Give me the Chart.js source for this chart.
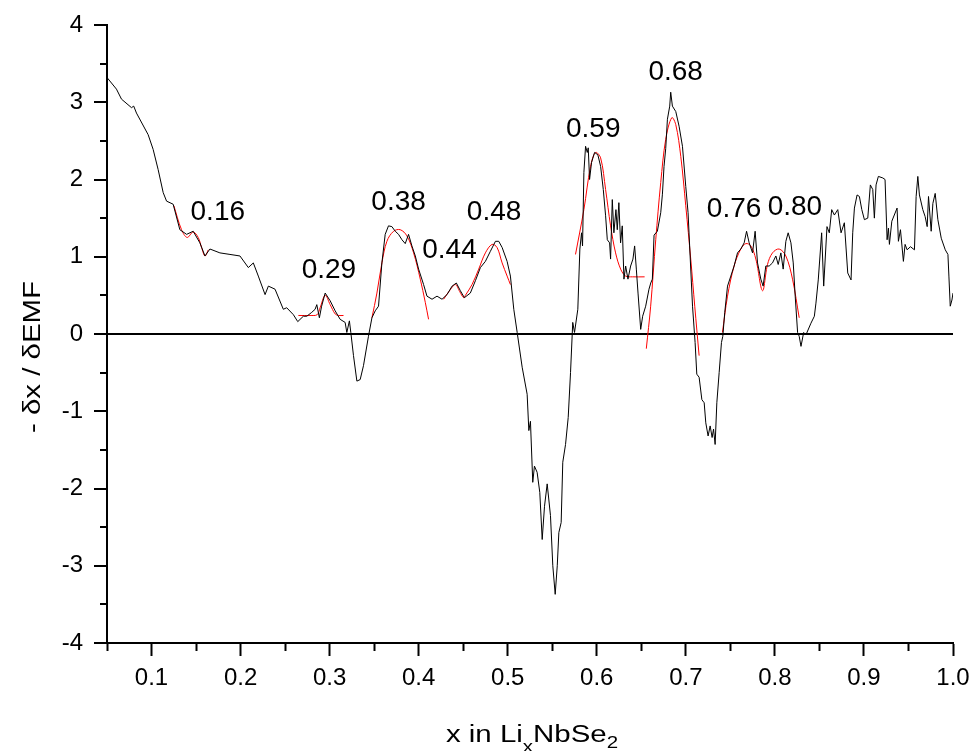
<html>
<head>
    <title>dx/dEMF vs x in LixNbSe2</title>
    <style>
        body {
            margin: 0;
            padding: 0;
            background: #ffffff;
        }
        .wrap {
            width: 971px;
            height: 751px;
            position: relative;
        }
    </style>
</head>
<body>
    <div class="wrap"><canvas id="emfChart"></canvas></div>
    <script src="https://cdn.jsdelivr.net/npm/chart.js"></script>
    <script>
        const curveX = [0.050, 0.0606, 0.0663, 0.0775, 0.080, 0.0831, 0.0962, 0.1018, 0.1074, 0.1131, 0.1169, 0.1243, 0.1318, 0.1394, 0.1468,
            0.1543, 0.1600, 0.1656, 0.1768, 0.1881, 0.1993, 0.2087, 0.2143, 0.2199, 0.2275, 0.2312, 0.2387, 0.2480, 0.2518, 0.2593,
            0.2642, 0.2705, 0.2744, 0.2799, 0.2837, 0.2856, 0.2885, 0.2910, 0.2950, 0.3006, 0.3062, 0.3118, 0.3174, 0.3193, 0.3222,
            0.3238, 0.3268, 0.3306, 0.3343, 0.3380, 0.3436, 0.3475, 0.3512, 0.3549, 0.3587, 0.3624, 0.3661, 0.3699, 0.3737, 0.3774,
            0.3812, 0.3849, 0.3886, 0.3924, 0.3962, 0.3999, 0.4055, 0.4093, 0.4150, 0.4206, 0.4262, 0.4318, 0.4375, 0.4423, 0.4468,
            0.4513, 0.4580, 0.4637, 0.4693, 0.4749, 0.4805, 0.4862, 0.4899, 0.4937, 0.4993, 0.5030, 0.5068, 0.5106, 0.5162, 0.5218,
            0.5237, 0.5255, 0.5281, 0.5300, 0.5330, 0.5360, 0.5387, 0.5413, 0.5443, 0.5480, 0.5506, 0.5533, 0.5556, 0.5574, 0.5600,
            0.5618, 0.5649, 0.5679, 0.5705, 0.5730, 0.5750, 0.5787, 0.5810, 0.5829, 0.5840, 0.5855, 0.5874, 0.5893, 0.5904, 0.5919,
            0.5941, 0.5975, 0.6012, 0.6043, 0.6073, 0.6099, 0.6118, 0.6144, 0.6155, 0.6174, 0.6192, 0.6215, 0.6230, 0.6248, 0.6267,
            0.6286, 0.6305, 0.6324, 0.6350, 0.6380, 0.6406, 0.6425, 0.6444, 0.6463, 0.6493, 0.6515, 0.6549, 0.6586, 0.6606, 0.6624,
            0.6643, 0.6680, 0.6718, 0.6737, 0.6755, 0.6774, 0.6793, 0.6819, 0.6830, 0.6849, 0.6887, 0.6924, 0.6962, 0.6999, 0.7025,
            0.7048, 0.7075, 0.7104, 0.7123, 0.7149, 0.7180, 0.7206, 0.7224, 0.7250, 0.7273, 0.7295, 0.7311, 0.7329, 0.7348, 0.7374,
            0.7400, 0.7415, 0.7437, 0.7468, 0.7505, 0.7542, 0.7580, 0.7617, 0.7655, 0.7682, 0.7711, 0.7749, 0.7778, 0.7805, 0.7842,
            0.7868, 0.7898, 0.7936, 0.7973, 0.8011, 0.8037, 0.8067, 0.8093, 0.8123, 0.8149, 0.8180, 0.8206, 0.8228, 0.8255, 0.8273,
            0.8293, 0.8323, 0.8349, 0.8405, 0.8443, 0.8461, 0.8487, 0.8525, 0.8548, 0.8585, 0.8611, 0.8638, 0.8668, 0.8706, 0.8743,
            0.8780, 0.8818, 0.8855, 0.8874, 0.8893, 0.8923, 0.8949, 0.8976, 0.9005, 0.9043, 0.9072, 0.9099, 0.9117, 0.9136, 0.9162,
            0.9212, 0.9237, 0.9260, 0.9275, 0.9286, 0.9313, 0.9372, 0.9387, 0.9410, 0.9443, 0.9462, 0.9485, 0.9522, 0.9567, 0.9586,
            0.9605, 0.9623, 0.9661, 0.9687, 0.9710, 0.9725, 0.9755, 0.9774, 0.9800, 0.9830, 0.9868, 0.9913, 0.9943, 0.9954, 0.9969,
            0.9988, 1.0000];
        const curveY = [3.32, 3.17, 3.04, 2.93, 2.95, 2.86, 2.58, 2.39, 2.13, 1.83, 1.72, 1.68, 1.35, 1.29, 1.33,
            1.18, 1.01, 1.10, 1.05, 1.03, 1.01, 0.86, 0.92, 0.75, 0.51, 0.62, 0.58, 0.32, 0.34, 0.25,
            0.16, 0.23, 0.23, 0.28, 0.32, 0.38, 0.21, 0.36, 0.53, 0.43, 0.30, 0.19, 0.15, 0.02, 0.17,
            0.02, -0.28, -0.61, -0.59, -0.41, -0.03, 0.21, 0.30, 0.36, 0.92, 1.29, 1.40, 1.39, 1.33, 1.29,
            1.22, 1.17, 1.29, 1.14, 1.01, 0.84, 0.64, 0.49, 0.45, 0.49, 0.45, 0.51, 0.62, 0.66, 0.56,
            0.47, 0.53, 0.69, 0.86, 0.94, 1.07, 1.20, 1.20, 1.12, 0.94, 0.75, 0.32, 0.02, -0.43, -0.78,
            -1.25, -1.13, -1.92, -1.71, -1.79, -2.05, -2.66, -2.23, -1.94, -2.35, -3.00, -3.37, -3.00, -2.57, -2.44,
            -1.66, -1.43, -1.08, -0.50, 0.15, 0.02, 0.32, 1.10, 1.31, 1.14, 2.09, 2.43, 2.35, 2.41, 2.00,
            2.22, 2.35, 2.32, 2.17, 1.87, 1.53, 1.22, 1.18, 0.97, 1.74, 1.31, 1.61, 1.35, 1.70, 1.18,
            1.40, 0.71, 0.88, 0.71, 0.88, 0.97, 1.14, 0.84, 0.53, 0.06, 0.23, 0.36, 0.58, 0.66, 0.71,
            1.28, 1.33, 1.57, 1.81, 2.17, 2.40, 2.78, 2.95, 3.13, 2.95, 2.88, 2.69, 2.43, 1.91, 1.57,
            1.01, 0.36, -0.11, -0.52, -0.56, -0.85, -0.89, -1.15, -1.32, -1.19, -1.34, -1.23, -1.43, -0.89, -0.50,
            -0.11, -0.03, 0.28, 0.62, 0.75, 0.88, 1.05, 1.10, 1.18, 1.33, 1.18, 1.05, 1.33, 0.92, 0.71,
            0.62, 0.88, 0.88, 0.92, 1.01, 0.90, 1.05, 0.84, 1.20, 1.31, 1.18, 0.92, 0.49, 0.02, -0.03,
            -0.16, 0.02, -0.01, 0.14, 0.23, 0.40, 0.70, 1.31, 0.62, 1.39, 1.31, 1.61, 1.54, 1.61, 1.31,
            1.44, 0.79, 0.70, 1.31, 1.63, 1.80, 1.78, 1.61, 1.48, 1.50, 1.93, 1.87, 1.50, 1.93, 2.04,
            2.02, 2.00, 1.22, 1.37, 1.16, 1.46, 1.63, 1.20, 1.35, 0.94, 1.16, 1.09, 1.13, 1.09, 1.78,
            2.04, 1.80, 1.61, 1.52, 1.39, 1.78, 1.33, 1.69, 1.82, 1.48, 1.24, 1.09, 1.03, 0.75, 0.36,
            0.44, 0.53];

        // fitted peaks (red)
        const fit016X = [0.1251, 0.1337, 0.1400, 0.1468, 0.1524, 0.1562, 0.1600, 0.1637];
        const fit016Y = [1.66, 1.35, 1.25, 1.32, 1.25, 1.12, 1.01, 1.09];
        const fit029X = [0.2649, 0.2780, 0.2860, 0.2893, 0.2950, 0.3006, 0.3062, 0.3100, 0.3156];
        const fit029Y = [0.24, 0.24, 0.25, 0.34, 0.50, 0.38, 0.26, 0.24, 0.24];
        const fit038X = [0.3475, 0.3531, 0.3587, 0.3643, 0.3718, 0.3793, 0.3868, 0.3943, 0.4018, 0.4074, 0.4111];
        const fit038Y = [0.21, 0.53, 0.92, 1.20, 1.33, 1.35, 1.27, 1.05, 0.71, 0.41, 0.19];
        const fit048X = [0.4280, 0.4340, 0.4412, 0.4460, 0.4505, 0.4524, 0.4599, 0.4674, 0.4749, 0.4824, 0.4880, 0.4937, 0.4993, 0.5030];
        const fit048Y = [0.45, 0.55, 0.64, 0.55, 0.47, 0.50, 0.64, 0.84, 1.05, 1.16, 1.12, 0.92, 0.75, 0.64];
        const fit059X = [0.5761, 0.5855, 0.5930, 0.5986, 0.6043, 0.6099, 0.6155, 0.6211, 0.6268, 0.6324, 0.6400, 0.6537];
        const fit059Y = [1.03, 1.61, 2.17, 2.35, 2.28, 1.87, 1.40, 1.05, 0.84, 0.75, 0.74, 0.74];
        const fit068X = [0.6556, 0.6605, 0.6662, 0.6718, 0.6774, 0.6842, 0.6887, 0.6943, 0.6999, 0.7055, 0.7100, 0.7149];
        const fit068Y = [-0.19, 0.36, 1.22, 1.96, 2.52, 2.80, 2.71, 2.30, 1.66, 0.97, 0.36, -0.28];
        const fit080X = [0.7411, 0.7468, 0.7542, 0.7617, 0.7674, 0.7730, 0.7786, 0.7861, 0.7917, 0.7973, 0.8048, 0.8123, 0.8198, 0.8273];
        const fit080Y = [0.02, 0.49, 0.88, 1.10, 1.17, 1.14, 0.97, 0.56, 0.90, 1.05, 1.10, 1.01, 0.71, 0.21];

        // peak labels
        const peakLabels = ['0.16', '0.29', '0.38', '0.44', '0.48', '0.59', '0.68', '0.76', '0.80'];
        const peakX = [0.1744, 0.2992, 0.3774, 0.4346, 0.4847, 0.5960, 0.6886, 0.7542, 0.8225];
        const peakY = [1.57, 0.83, 1.70, 1.08, 1.57, 2.65, 3.39, 1.61, 1.64];

        const FONT = '"Liberation Sans", Arial, Helvetica, sans-serif';

        function pts(xs, ys) {
            return xs.map((v, i) => ({ x: v, y: ys[i] }));
        }
        function isMajorX(v) {
            return Math.round(v * 100) % 10 === 0;
        }
        function isMajorY(v) {
            return Math.round(v * 2) % 2 === 0;
        }

        const fits = [
            [fit016X, fit016Y], [fit029X, fit029Y], [fit038X, fit038Y], [fit048X, fit048Y],
            [fit059X, fit059Y], [fit068X, fit068Y], [fit080X, fit080Y]
        ];

        const datasets = [{
            label: 'curve',
            data: pts(curveX, curveY),
            borderColor: '#000000',
            borderWidth: 1,
            pointRadius: 0,
            tension: 0
        }];
        fits.forEach((f, i) => {
            datasets.push({
                label: 'fit' + i,
                data: pts(f[0], f[1]),
                borderColor: '#ff0000',
                borderWidth: 1,
                pointRadius: 0,
                tension: 0.35
            });
        });

        // the axis titles in the original are stretched along the text
        const STRETCH = 1.28;

        const textPlugin = {
            id: 'texts',
            afterDatasetsDraw(chart) {
                const ctx = chart.ctx;
                const xs = chart.scales.x, ys = chart.scales.y;
                ctx.save();
                ctx.fillStyle = '#000';
                ctx.font = '28px ' + FONT;
                ctx.textAlign = 'center';
                ctx.textBaseline = 'middle';
                peakLabels.forEach((t, i) => {
                    ctx.fillText(t, xs.getPixelForValue(peakX[i]), ys.getPixelForValue(peakY[i]));
                });
                ctx.restore();
            },
            afterDraw(chart) {
                const ctx = chart.ctx;
                ctx.save();
                ctx.fillStyle = '#000';
                // x title with subscripts
                const main = '23px ' + FONT, sub = '16px ' + FONT;
                const parts = [['x in Li', main, 10], ['x', sub, 0], ['NbSe', main, 6], ['2', sub, 0]];
                let total = 0;
                parts.forEach(p => { ctx.font = p[1]; total += ctx.measureText(p[0]).width; });
                ctx.translate(532 - total * STRETCH / 2, 0);
                ctx.scale(STRETCH, 1);
                ctx.textAlign = 'left';
                ctx.textBaseline = 'alphabetic';
                let cx = 0;
                parts.forEach(p => {
                    ctx.font = p[1];
                    const base = p[1] === sub ? (p[0] === 'x' ? 752 : 748) : 742;
                    ctx.fillText(p[0], cx, base);
                    cx += ctx.measureText(p[0]).width;
                });
                ctx.restore();
                // y title
                ctx.save();
                ctx.fillStyle = '#000';
                ctx.translate(40, 357);
                ctx.rotate(-Math.PI / 2);
                ctx.scale(STRETCH, 1);
                ctx.font = '23px ' + FONT;
                ctx.textAlign = 'center';
                ctx.textBaseline = 'alphabetic';
                ctx.fillText('- \u03b4x / \u03b4EMF', 0, 0);
                ctx.restore();
            }
        };

        Chart.defaults.color = '#000';
        Chart.defaults.font.family = FONT;

        const emfChart = new Chart(document.getElementById('emfChart').getContext('2d'), {
            type: 'line',
            data: { datasets: datasets },
            options: {
                responsive: true,
                maintainAspectRatio: false,
                animation: false,
                layout: { padding: { top: 25, right: 18, left: 0, bottom: 0 } },
                plugins: {
                    legend: { display: false },
                    tooltip: { enabled: false }
                },
                scales: {
                    x: {
                        type: 'linear',
                        min: 0.05,
                        max: 1.0,
                        afterFit: s => {
                            s.height = 108;
                            s.paddingLeft = 0;
                            s.paddingRight = 0;
                        },
                        border: { color: '#000', width: 2 },
                        grid: {
                            drawOnChartArea: false,
                            tickLength: 13,
                            tickWidth: 2,
                            tickColor: '#000',
                            tickBorderDash: c => (c.tick && !isMajorX(c.tick.value)) ? [7, 100] : []
                        },
                        ticks: {
                            stepSize: 0.05,
                            autoSkip: false,
                            maxRotation: 0,
                            padding: 8,
                            font: { size: 24 },
                            callback: v => isMajorX(v) ? v.toFixed(1) : ''
                        }
                    },
                    y: {
                        min: -4,
                        max: 4,
                        afterFit: s => {
                            s.width = 107;
                            s.paddingTop = 0;
                            s.paddingBottom = 0;
                        },
                        border: { color: '#000', width: 2 },
                        grid: {
                            color: c => (c.tick && Math.abs(c.tick.value) < 1e-9) ? '#000' : 'rgba(0,0,0,0)',
                            lineWidth: 2,
                            tickLength: 13,
                            tickWidth: 2,
                            tickColor: '#000',
                            tickBorderDash: c => (c.tick && !isMajorY(c.tick.value)) ? [0, 6, 7, 100] : []
                        },
                        ticks: {
                            stepSize: 0.5,
                            autoSkip: false,
                            padding: 11,
                            font: { size: 24 },
                            callback: v => isMajorY(v) ? String(Math.round(v)) : ''
                        }
                    }
                }
            },
            plugins: [textPlugin]
        });
    </script>
</body>
</html>
